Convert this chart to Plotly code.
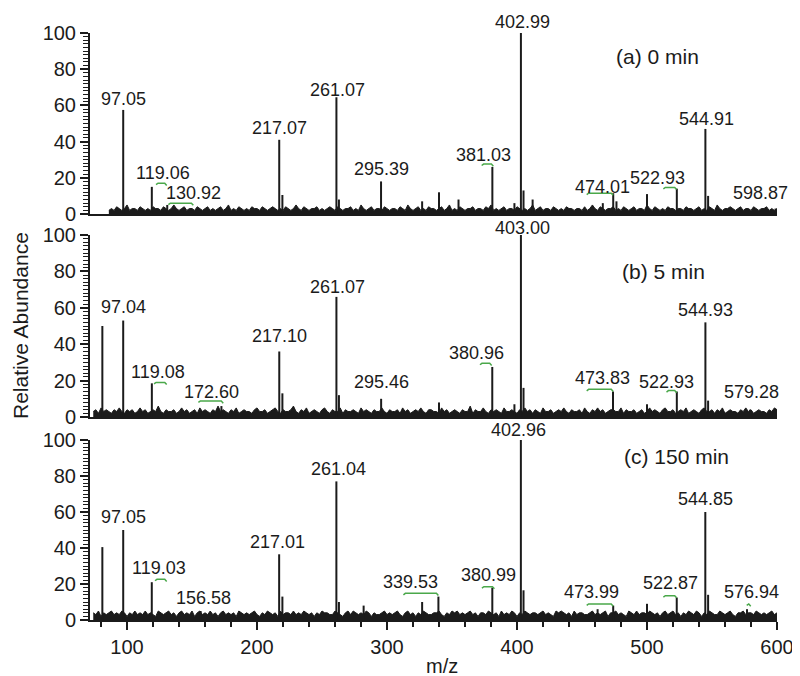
import numpy as np
import plotly.graph_objects as go

# ---------------- data ----------------
X_RANGE = [71.5, 600]
x_ticks = [100, 200, 300, 400, 500, 600]
y_ticks = [0, 20, 40, 60, 80, 100]

# (a) 0 min
a_mz = [97.05, 119.06, 130.92, 217.07, 219.5, 261.07, 263.0, 295.39, 327.0, 340.0, 355.0,
        381.03, 398.0, 402.99, 405.0, 412.0, 466.0, 474.01, 476.5, 500.0, 522.93, 544.91, 547.0, 598.87]
a_int = [57.5, 15, 5, 41, 10.5, 64.5, 8, 18, 7, 12, 8,
         26, 6, 100, 13, 8, 6, 11.5, 7, 11, 14, 47, 10, 3]
a_noise_start = 86
a_noise = [2,3,2,4,3,2,3,5,2,3, 3,2,4,3,2,3,2,4,3,3, 2,4,3,2,3,5,3,2,3,4, 2,3,3,2,4,3,2,3,4,2,
           3,2,3,4,2,3,5,2,3,2, 4,3,2,3,2,4,3,3,2,4, 3,2,3,4,3,2,3,2,4,3, 2,3,5,3,2,4,3,2,3,3,
           4,2,3,2,3,4,3,2,4,3, 2,3,3,4,2,3,2,5,3,2, 3,4,2,3,3,2,4,3,2,3, 3,2,4,3,2,5,3,2,3,4,
           2,3,2,4,3,3,2,3,4,2, 3,5,2,3,2,4,3,2,3,3, 4,2,3,3,2,4,3,5,2,3, 2,3,4,2,3,3,2,4,3,2,
           3,2,3,5,2,3,4,2,3,3, 2,4,3,2,3,2,4,3,3,2, 3,3,2,4,2,3,5,3,2,4, 3,2,3,3,4,2,3,2,4,3,
           2,3,4,2,3,3,2,5,3,2, 4,3,2,3,2,4,3,3,2,3, 3,2,4,3,3,2,3,4,2,3, 2,4,3,2,5,3,2,3,3,4,
           3,2,3,4,2,3,3,2,4,3, 2,3,3,4,2,3,2,3]
a_labels = ["97.05", "119.06", "130.92", "217.07", "261.07", "295.39", "381.03", "402.99",
            "474.01", "522.93", "544.91", "598.87"]
a_label_x = [97.5, 128, 151, 217.5, 262, 296, 374, 404, 466, 508, 546, 587]
a_label_y = [63.5, 22.6, 11.6, 47.5, 68.5, 25, 32.6, 106, 15, 20, 52.5, 11.6]
a_lead_x0 = [122.3, 131.8, 372.8, 453.6, 512.6]
a_lead_x1 = [130.5, 151.0, 381.8, 474.0, 522.8]
a_lead_y = [17, 6, 27.6, 11.5, 14.7]

# (b) 5 min
b_mz = [81.0, 97.04, 119.08, 172.60, 217.10, 219.5, 261.07, 263.0, 295.46, 340.0, 380.96,
        398.0, 403.00, 405.0, 473.83, 500.0, 522.93, 544.93, 547.0, 579.28]
b_int = [50, 53, 18.5, 6, 36, 13, 66, 12, 10, 8, 27.5,
         7, 100, 16, 14, 7, 14, 52, 9, 4]
b_noise_start = 74
b_noise = [3,4,2,5,3,4,3,2,4,3, 5,3,2,4,3,4,2,3,5,3, 4,2,3,4,3,6,3,2,4,3, 3,4,2,3,5,3,4,2,3,4,
           2,5,3,4,3,2,4,3,6,3, 4,3,2,4,3,5,2,3,4,3, 3,2,4,5,3,3,4,2,3,4, 5,3,2,4,3,3,4,6,3,2,
           4,3,5,2,3,4,3,2,4,5, 3,2,4,3,3,5,2,4,3,3, 4,3,2,5,3,4,3,2,4,3, 3,5,3,2,4,3,3,4,2,5,
           3,4,2,3,4,3,5,3,2,4, 4,3,3,2,5,3,4,2,3,4, 3,2,4,3,3,6,2,4,3,3, 5,3,2,4,3,4,3,2,5,3,
           3,4,3,2,4,3,5,3,4,2, 4,3,2,5,3,3,4,2,3,4, 3,5,3,2,4,3,3,4,2,5, 3,2,4,3,5,3,4,2,3,4,
           4,3,3,5,2,4,3,3,4,2, 3,4,2,3,5,3,4,3,2,4, 5,3,3,4,2,3,4,3,5,2, 3,4,3,2,4,5,3,3,4,2,
           4,3,5,2,3,4,3,3,2,4, 3,5,3,4,2,3,4,3,3,2, 4,3,5,4]
b_labels = ["97.04", "119.08", "172.60", "217.10", "261.07", "295.46", "380.96", "403.00",
            "473.83", "522.93", "544.93", "579.28"]
b_label_x = [97, 124, 165, 217.5, 261.6, 296, 369, 404, 466, 515, 545, 580]
b_label_y = [60.6, 25, 14, 44.5, 71.6, 19.4, 35, 104, 21.5, 19.4, 59, 14]
b_lead_x0 = [120.8, 154.9, 371.5, 453.6, 515.0]
b_lead_x1 = [130.5, 174.0, 380.5, 474.0, 522.8]
b_lead_y = [19, 8.8, 29.5, 15.2, 14.5]

# (c) 150 min
c_mz = [81.0, 97.05, 119.03, 156.58, 217.01, 219.5, 261.04, 263.0, 282.0, 327.0, 339.53,
        380.99, 402.96, 405.0, 462.0, 473.99, 500.0, 522.87, 544.85, 547.0, 576.94]
c_int = [40.5, 50, 21, 5, 36.5, 13, 77, 10, 8, 10, 13,
         18, 100, 16.5, 6, 8, 9, 12.5, 60, 14, 6]
c_noise_start = 74
c_noise = [4,3,5,2,4,3,4,5,3,4, 3,5,4,2,4,3,5,3,4,3, 5,3,4,3,2,5,4,3,4,5, 3,4,2,4,5,3,4,3,5,2,
           4,5,3,4,3,5,3,4,2,4, 5,3,4,3,4,2,5,4,3,4, 3,4,5,3,2,4,3,5,4,3, 4,2,5,3,4,4,3,5,3,4,
           3,5,4,3,4,2,4,3,5,4, 4,3,3,5,4,3,2,4,5,3, 5,4,3,4,3,5,4,2,4,3, 3,4,5,3,4,3,4,5,3,2,
           4,5,3,4,2,4,3,5,4,3, 3,4,4,5,3,2,4,3,5,4, 5,3,4,3,4,5,3,4,2,4, 4,3,5,4,3,4,2,5,3,4,
           3,5,4,2,4,3,5,4,3,4, 4,3,4,5,3,4,3,2,5,4, 5,4,3,4,2,5,3,4,4,3, 3,4,5,3,4,3,4,5,2,4,
           4,5,3,4,3,2,5,4,3,5, 3,4,4,3,5,4,3,4,2,4, 5,3,4,5,3,4,2,4,3,5, 4,3,5,4,2,4,3,5,4,3,
           3,5,4,3,4,5,3,2,4,4, 5,3,4,4,3,5,4,3,4,3, 4,5,3,4]
c_labels = ["97.05", "119.03", "156.58", "217.01", "261.04", "339.53", "380.99", "402.96",
            "473.99", "522.87", "544.85", "576.94"]
c_label_x = [97.5, 124.8, 158.5, 216, 263, 318, 377.7, 401.5, 457, 517.7, 545, 580]
c_label_y = [57, 29, 12, 43.5, 84, 21, 25, 105.5, 15.7, 20.5, 67, 15.7]
c_lead_x0 = [121.5, 312.6, 373.0, 453.6, 512.6, 576.7]
c_lead_x1 = [130.5, 339.5, 382.6, 474.0, 522.8, 579.8]
c_lead_y = [22.6, 14.8, 18.5, 8.9, 13.5, 8.9]

panel_titles = ["(a) 0 min", "(b) 5 min", "(c) 150 min"]
panel_title_x = [508, 513, 523]
panel_title_y = [87, 80, 90.7]

# ---------------- styling / layout ----------------
W, H = 800, 676
OFF = 8  # page body margin shifts the figure by this many pixels
M_L, M_R, M_T, M_B = 90 - OFF, 23 + OFF, 33 - OFF, 56 + OFF
PH = H - M_T - M_B
PW = W - M_L - M_R
domains = [[406 / PH, 1.0], [203 / PH, 385 / PH], [0.0, 180 / PH]]
FONT = "Liberation Sans, Arial, sans-serif"
INK = "#1b1b1b"
GREEN = "#4aa84a"

panels = [
    dict(mz=a_mz, inten=a_int, ns=a_noise_start, noise=a_noise, labels=a_labels, lx=a_label_x, ly=a_label_y,
         l0=a_lead_x0, l1=a_lead_x1, lyy=a_lead_y),
    dict(mz=b_mz, inten=b_int, ns=b_noise_start, noise=b_noise, labels=b_labels, lx=b_label_x, ly=b_label_y,
         l0=b_lead_x0, l1=b_lead_x1, lyy=b_lead_y),
    dict(mz=c_mz, inten=c_int, ns=c_noise_start, noise=c_noise, labels=c_labels, lx=c_label_x, ly=c_label_y,
         l0=c_lead_x0, l1=c_lead_x1, lyy=c_lead_y),
]

fig = go.Figure()
annotations = []
Y_MAX = 100.0

for i, p in enumerate(panels):
    n = "" if i == 0 else str(i + 1)
    xa, ya = "x" + n, "y" + n
    nx = np.arange(p["ns"], p["ns"] + 2 * len(p["noise"]), 2)[: len(p["noise"])]
    fig.add_trace(go.Scatter(x=nx, y=p["noise"], mode="lines", line=dict(color=INK, width=1),
                             fill="tozeroy", fillcolor=INK, xaxis=xa, yaxis=ya,
                             hoverinfo="skip", showlegend=False))
    sx, sy = [], []
    for m, h in zip(p["mz"], p["inten"]):
        sx += [m, m, None]
        sy += [0, h, None]
    fig.add_trace(go.Scatter(x=sx, y=sy, mode="lines", line=dict(color=INK, width=2),
                             xaxis=xa, yaxis=ya, showlegend=False))
    gx, gy = [], []
    for x0, x1, yy in zip(p["l0"], p["l1"], p["lyy"]):
        gx += [x0, x0 + 1.5, x1 - 1.5, x1, None]
        gy += [yy - 0.8, yy, yy, yy - 1.2, None]
    fig.add_trace(go.Scatter(x=gx, y=gy, mode="lines", line=dict(color=GREEN, width=1.5),
                             xaxis=xa, yaxis=ya, showlegend=False, hoverinfo="skip"))
    for t, x, y in zip(p["labels"], p["lx"], p["ly"]):
        annotations.append(dict(text=t, x=x, y=y / Y_MAX, xref=xa, yref=ya + " domain", showarrow=False,
                                xanchor="center", yanchor="middle",
                                font=dict(family=FONT, size=18, color=INK)))
    annotations.append(dict(text=panel_titles[i], x=panel_title_x[i], y=panel_title_y[i] / Y_MAX,
                            xref=xa, yref=ya + " domain",
                            showarrow=False, xanchor="center", yanchor="middle",
                            font=dict(family=FONT, size=21, color=INK)))

annotations.append(dict(text="Relative Abundance", xref="paper", yref="paper",
                        x=(20 - 90) / PW, y=(620 - 326) / PH, textangle=-90,
                        showarrow=False, xanchor="center", yanchor="middle",
                        font=dict(family=FONT, size=21, color=INK)))
annotations.append(dict(text="m/z", xref="paper", yref="paper",
                        x=(442 - 90) / PW, y=(620 - 666) / PH,
                        showarrow=False, xanchor="center", yanchor="middle",
                        font=dict(family=FONT, size=20, color=INK)))

layout = dict(width=W, height=H, margin=dict(l=M_L, r=M_R, t=M_T, b=M_B),
              paper_bgcolor="white", plot_bgcolor="white", showlegend=False,
              annotations=annotations, font=dict(family=FONT, color=INK))
for i in range(3):
    n = "" if i == 0 else str(i + 1)
    bottom = i == 2
    layout["xaxis" + n] = dict(range=X_RANGE, domain=[0, 1], anchor="y" + n,
                               showline=True, linecolor=INK, linewidth=2, showgrid=False, zeroline=False,
                               ticks="outside" if bottom else "", ticklen=8, tickwidth=2, tickcolor=INK,
                               tickvals=x_ticks, showticklabels=bottom,
                               tickfont=dict(family=FONT, size=20, color=INK),
                               minor=dict(dtick=20, ticks="outside" if bottom else "", ticklen=5,
                                          tickwidth=1.5, tickcolor=INK, showgrid=False),
                               matches=None if i == 0 else "x")
    layout["yaxis" + n] = dict(range=[0, Y_MAX], domain=domains[i], anchor="x" + n,
                               showline=True, linecolor=INK, linewidth=2, showgrid=False, zeroline=False,
                               ticks="outside", ticklen=8, tickwidth=2, tickcolor=INK,
                               tickvals=y_ticks, tickfont=dict(family=FONT, size=20, color=INK),
                               minor=dict(dtick=2, ticks="outside", ticklen=5, tickwidth=1.2,
                                          tickcolor=INK, showgrid=False))
fig.update_layout(**layout)
fig.write_html("out.html")
